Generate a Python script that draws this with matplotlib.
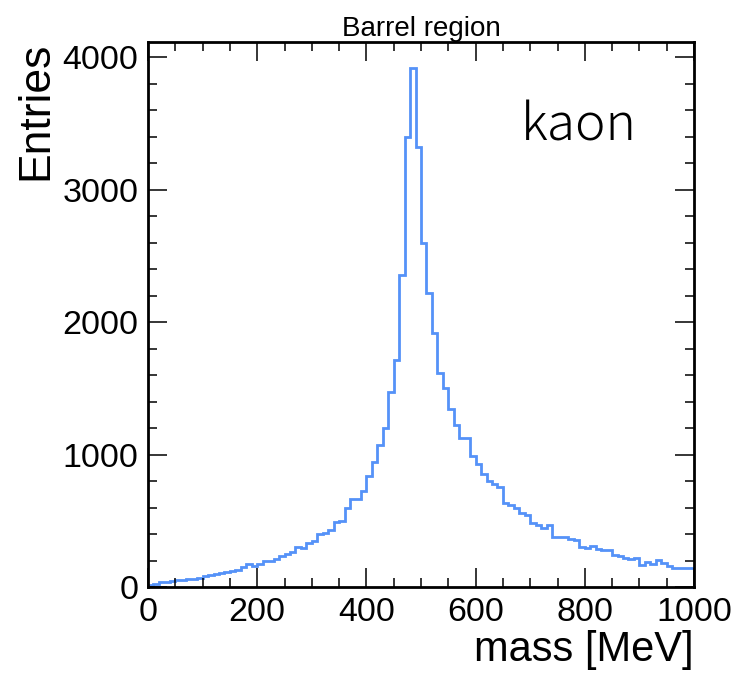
import numpy as np
import matplotlib
matplotlib.use('Agg')
import matplotlib.pyplot as plt
from matplotlib.ticker import MultipleLocator

# kaon mass histogram, 10 MeV bins from 0 to 1000 MeV
bin_edges = np.linspace(0, 1000, 101)
entries = [
    18, 22, 35, 35, 48, 52, 55, 58, 62, 68,
    80, 90, 98, 105, 112, 122, 130, 150, 174, 161,
    174, 195, 200, 211, 236, 247, 267, 304, 292, 335,
    347, 398, 410, 430, 493, 500, 594, 662, 662, 727,
    840, 946, 1072, 1198, 1474, 1713, 2360, 3400, 3920, 3320,
    2600, 2224, 1919, 1617, 1504, 1341, 1223, 1127, 1122, 991,
    931, 850, 802, 777, 757, 636, 617, 599, 556, 546,
    485, 466, 446, 466, 380, 380, 378, 362, 352, 302,
    292, 306, 287, 281, 279, 245, 232, 222, 210, 218,
    163, 190, 176, 204, 180, 162, 140, 140, 140, 140,
]
title = 'Barrel region'
particle = 'kaon'

plt.rcParams['font.family'] = ['Liberation Sans', 'DejaVu Sans']

fig = plt.figure(figsize=(7.4, 6.79), dpi=100)
ax = fig.add_axes([148/740, 92/679, 546/740, 545/679])

ax.stairs(entries, bin_edges, baseline=None, color='#5592f8', linewidth=2.0)

ax.set_xlim(0, 1000)
ax.set_ylim(0, max(entries) * 1.05)

ax.xaxis.set_major_locator(MultipleLocator(200))
ax.xaxis.set_minor_locator(MultipleLocator(50))
ax.yaxis.set_major_locator(MultipleLocator(1000))
ax.yaxis.set_minor_locator(MultipleLocator(200))
ax.tick_params(which='both', direction='in', top=True, right=True, width=1.1)
ax.tick_params(which='major', length=13.5, labelsize=24.5, pad=7)
ax.tick_params(which='minor', length=6.5)
for s in ax.spines.values():
    s.set_linewidth(2.0)

ax.set_xlabel('mass [MeV]', fontsize=30, loc='right', labelpad=2)
ax.set_ylabel('Entries', fontsize=32, loc='top', labelpad=4)
ax.set_title(title, fontsize=20, pad=4)

ax.text(0.683, 0.846, particle, transform=ax.transAxes, fontsize=37,
        family=['Noto Sans CJK JP', 'DejaVu Sans'], fontweight='light',
        va='center', ha='left')

fig.savefig('out.png', dpi=100)
